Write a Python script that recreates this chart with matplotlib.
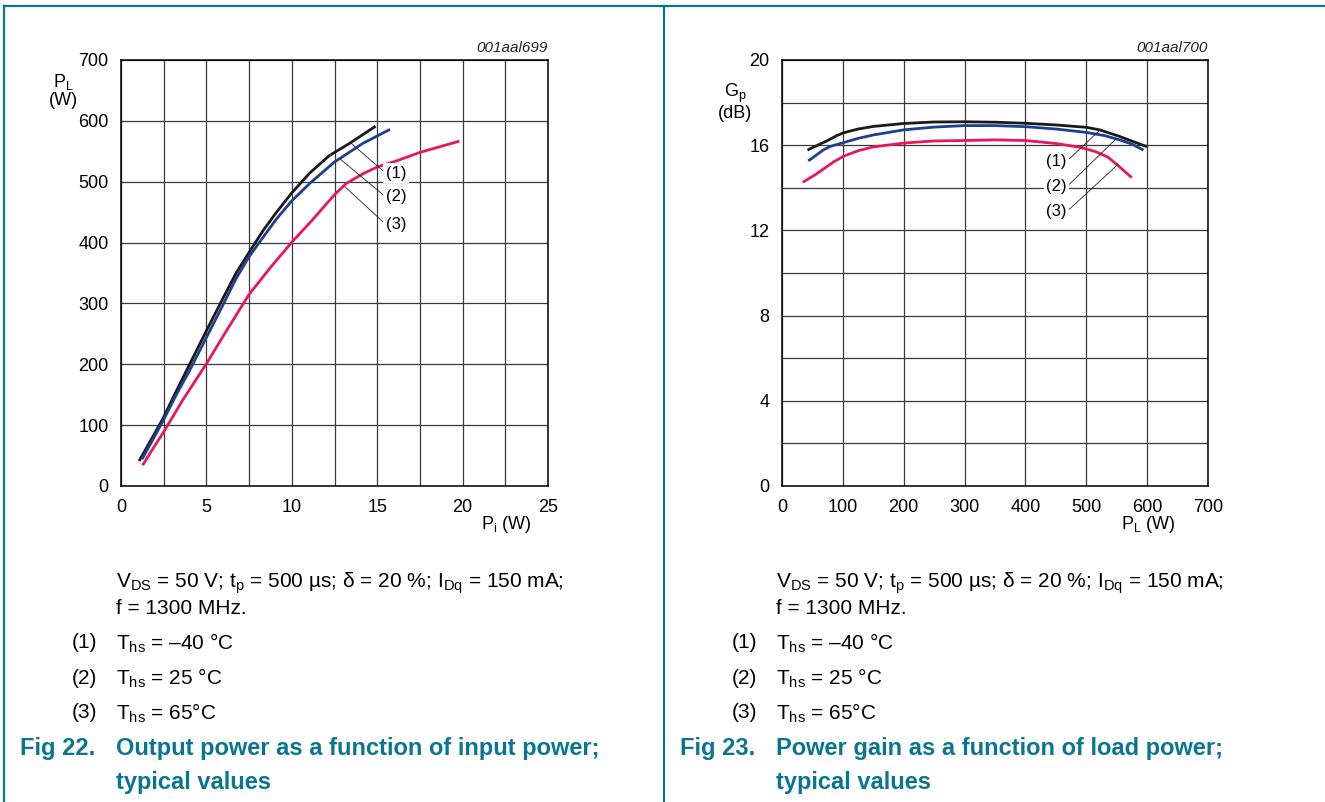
import numpy as np
import matplotlib.pyplot as plt
from matplotlib.lines import Line2D

plt.rcParams['font.family'] = ['Liberation Sans', 'DejaVu Sans']
plt.rcParams['mathtext.fontset'] = 'custom'
plt.rcParams['mathtext.rm'] = 'Liberation Sans'
plt.rcParams['mathtext.it'] = 'Liberation Sans:italic'

# Fig 22: output power vs input power
pi_m40 = [1.1, 1.76, 2.44, 3.22, 4.0, 4.98, 5.96, 6.74, 7.48, 8.3, 9.08, 9.98, 11.04, 12.2, 13.38, 14.84]
pl_m40 = [43, 76, 110, 155, 199, 254, 308, 350, 383, 419, 449, 481, 514, 543, 563, 590]
pi_25 = [1.27, 1.86, 2.48, 3.22, 4.0, 4.98, 5.96, 6.74, 7.48, 8.3, 9.08, 9.98, 11.04, 12.48, 14.16, 15.68]
pl_25 = [46, 76, 108, 149, 189, 243, 297, 341, 376, 408, 438, 468, 497, 532, 563, 585]
pi_65 = [1.31, 1.86, 2.48, 3.61, 4.98, 6.15, 7.48, 8.69, 9.98, 11.23, 12.48, 13.18, 14.16, 14.98,
         16.11, 17.48, 19.73]
pl_65 = [36, 61, 88, 141, 200, 254, 314, 357, 400, 438, 478, 497, 513, 524, 534, 548, 566]

# Fig 23: power gain vs load power
plg_m40 = [44, 60, 75, 90, 101, 125, 150, 200, 250, 300, 350, 400, 450, 500, 522, 554, 576, 598]
gp_m40 = [15.80, 16.02, 16.22, 16.45, 16.58, 16.76, 16.88, 17.02, 17.09, 17.10, 17.08, 17.03,
          16.95, 16.84, 16.72, 16.42, 16.18, 15.95]
plg_25 = [45, 57, 68, 80, 101, 125, 150, 200, 250, 300, 350, 400, 450, 500, 530, 555, 575, 592]
gp_25 = [15.30, 15.55, 15.78, 15.95, 16.12, 16.32, 16.48, 16.72, 16.85, 16.92, 16.92, 16.87,
         16.76, 16.60, 16.45, 16.25, 16.05, 15.80]
plg_65 = [36, 55, 68, 85, 101, 125, 150, 200, 250, 300, 350, 400, 450, 490, 515, 535, 550, 562, 573]
gp_65 = [14.29, 14.62, 14.88, 15.22, 15.48, 15.74, 15.92, 16.10, 16.20, 16.22, 16.25, 16.22,
         16.08, 15.90, 15.70, 15.45, 15.10, 14.80, 14.52]

c_black = '#1a1a1a'
c_blue = '#1f3f8f'
c_red = '#e8175d'
teal = '#0a7590'

fig = plt.figure(figsize=(13.25, 8.02), dpi=100)
W, H = 1325, 802


def setup(ax):
    ax.grid(True, which='both', color='#3a3a3a', lw=0.9)
    ax.tick_params(which='both', length=0, labelsize=13, pad=9)
    for s in ax.spines.values():
        s.set_linewidth(1.1)
    ax.set_axisbelow(True)


# left chart
ax1 = fig.add_axes([121 / W, 1 - 486 / H, 427 / W, 426 / H])
ax1.plot(pi_m40, pl_m40, color=c_black, lw=2)
ax1.plot(pi_25, pl_25, color=c_blue, lw=2)
ax1.plot(pi_65, pl_65, color=c_red, lw=2)
ax1.set_xlim(0, 25)
ax1.set_ylim(0, 700)
ax1.set_xticks(np.arange(0, 26, 5))
ax1.set_xticks(np.arange(2.5, 25, 5), minor=True)
ax1.set_yticks(np.arange(0, 701, 100))
setup(ax1)
ax1.text(1.0, 1.012, '001aal699', transform=ax1.transAxes, ha='right', va='bottom',
         fontsize=11, style='italic', color='#222')
ax1.text(-0.135, 0.972, 'P$_\\mathregular{L}$\n(W)', transform=ax1.transAxes, ha='center',
         va='top', fontsize=13, linespacing=1.0)
ax1.text(0.962, -0.065, 'P$_\\mathregular{i}$ (W)', transform=ax1.transAxes, ha='right',
         va='top', fontsize=13)
for lab, pt, ty in [('(1)', (13.4, 565), 514), ('(2)', (12.8, 538), 475), ('(3)', (13.1, 492), 430)]:
    ax1.annotate(lab, xy=pt, xytext=(15.5, ty), fontsize=12, va='center', ha='left',
                 bbox=dict(boxstyle='square,pad=0.15', fc='white', ec='none'),
                 arrowprops=dict(arrowstyle='-', lw=0.6, color='#222', relpos=(0, 0.5),
                                 shrinkA=0, shrinkB=0))

# right chart
ax2 = fig.add_axes([782 / W, 1 - 486 / H, 426 / W, 426 / H])
ax2.plot(plg_m40, gp_m40, color=c_black, lw=2)
ax2.plot(plg_25, gp_25, color=c_blue, lw=2)
ax2.plot(plg_65, gp_65, color=c_red, lw=2)
ax2.set_xlim(0, 700)
ax2.set_ylim(0, 20)
ax2.set_xticks(np.arange(0, 701, 100))
ax2.set_yticks(np.arange(0, 21, 4))
ax2.set_yticks(np.arange(2, 20, 4), minor=True)
setup(ax2)
ax2.text(1.0, 1.012, '001aal700', transform=ax2.transAxes, ha='right', va='bottom',
         fontsize=11, style='italic', color='#222')
ax2.text(-0.11, 0.948, 'G$_\\mathregular{p}$\n(dB)', transform=ax2.transAxes, ha='center',
         va='top', fontsize=13, linespacing=1.0)
ax2.text(0.925, -0.065, 'P$_\\mathregular{L}$ (W)', transform=ax2.transAxes, ha='right',
         va='top', fontsize=13)
for lab, pt, ty in [('(1)', (522, 16.7), 15.25), ('(2)', (549, 16.3), 14.05), ('(3)', (552, 15.1), 12.88)]:
    ax2.annotate(lab, xy=pt, xytext=(468, ty), fontsize=12, va='center', ha='right',
                 bbox=dict(boxstyle='square,pad=0.15', fc='white', ec='none'),
                 arrowprops=dict(arrowstyle='-', lw=0.6, color='#222', relpos=(1, 0.5),
                                 shrinkA=0, shrinkB=0))

# frame
for xs, ys in [([4, W], [6, 6]), ([4, 4], [6, H]), ([664, 664], [6, H])]:
    fig.add_artist(Line2D([x / W for x in xs], [1 - y / H for y in ys], color=teal, lw=1.6))

# captions
caps = [
    (0, 'Fig 22.', 'Output power as a function of input power;'),
    (660, 'Fig 23.', 'Power gain as a function of load power;'),
]
temps = ['T$_\\mathregular{hs}$ = \u201340 \u00b0C', 'T$_\\mathregular{hs}$ = 25 \u00b0C',
         'T$_\\mathregular{hs}$ = 65\u00b0C']
for off, fig_no, title in caps:
    x0 = (off + 116) / W
    fig.text(x0, 1 - 583 / H, 'V$_\\mathregular{DS}$ = 50 V; t$_\\mathregular{p}$ = 500 \u00b5s; '
             '\u03b4 = 20 %; I$_\\mathregular{Dq}$ = 150 mA;', fontsize=15, va='center')
    fig.text(x0, 1 - 608 / H, 'f = 1300 MHz.', fontsize=15, va='center')
    for i, t in enumerate(temps):
        y = 1 - (643 + 35 * i) / H
        fig.text((off + 72) / W, y, '(%d)' % (i + 1), fontsize=15, va='center')
        fig.text(x0, y, t, fontsize=15, va='center')
    fig.text((off + 20) / W, 1 - 749 / H, fig_no, fontsize=17, fontweight='bold',
             color=teal, va='center')
    fig.text(x0, 1 - 749 / H, title, fontsize=17, fontweight='bold', color=teal, va='center')
    fig.text(x0, 1 - 782 / H, 'typical values', fontsize=17, fontweight='bold',
             color=teal, va='center')

fig.savefig('out.png', dpi=100)
